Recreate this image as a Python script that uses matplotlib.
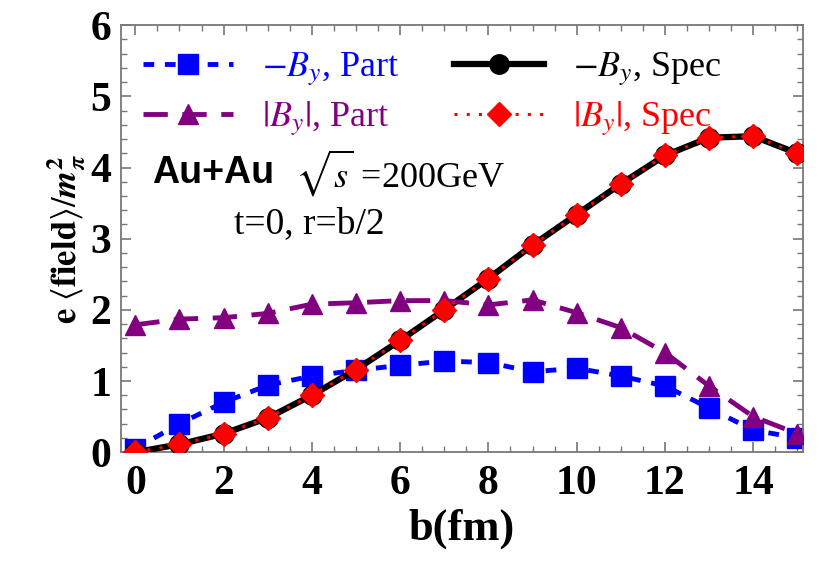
import matplotlib
matplotlib.use("Agg")
import matplotlib.pyplot as plt
from matplotlib.ticker import MultipleLocator

plt.rcParams['font.family'] = ['Liberation Serif', 'DejaVu Serif']
plt.rcParams['mathtext.fontset'] = 'stix'

b = list(range(16))
by_part = [0.05, 0.40, 0.70, 0.94, 1.07, 1.15, 1.22, 1.28, 1.26, 1.13, 1.18, 1.07, 0.93, 0.62, 0.31, 0.20]
absby_part = [1.79, 1.87, 1.89, 1.95, 2.08, 2.10, 2.13, 2.13, 2.07, 2.14, 1.96, 1.75, 1.40, 0.93, 0.50, 0.26]
by_spec = [0.0, 0.11, 0.26, 0.48, 0.80, 1.16, 1.57, 2.00, 2.44, 2.91, 3.34, 3.77, 4.17, 4.42, 4.44, 4.20]
absby_spec = [0.0, 0.11, 0.26, 0.48, 0.80, 1.16, 1.57, 2.00, 2.44, 2.91, 3.34, 3.77, 4.17, 4.42, 4.44, 4.20]

fig = plt.figure(figsize=(8.19, 5.61), dpi=100)
ax = fig.add_axes([0.148, 0.194, 0.832, 0.761])

ax.plot(b, by_part, color='#0000ff', lw=3.5, dashes=(2.2, 2.2), marker='s', ms=14,
        label=r'$-B_y$, Part', zorder=2)
ax.plot(b, by_spec, color='black', lw=4.5, marker='o', ms=14,
        label=r'$-B_y$, Spec', zorder=3)
ax.plot(b, absby_part, color='#800080', lw=3.5, dashes=(5, 3), marker='^', ms=14,
        label=r'$|B_y|$, Part', zorder=4)
ax.plot(b, absby_spec, color='#ff0000', lw=2.2, dashes=(1, 3), marker='D', ms=12,
        label=r'$|B_y|$, Spec', zorder=5)

ax.set_xlim(-0.32, 15.12)
ax.set_ylim(0, 6)
ax.xaxis.set_major_locator(MultipleLocator(2))
ax.xaxis.set_minor_locator(MultipleLocator(0.5))
ax.yaxis.set_major_locator(MultipleLocator(1))
ax.yaxis.set_minor_locator(MultipleLocator(0.2))
ax.tick_params(which='both', direction='in', top=True, right=True, color='#777777')
ax.tick_params(which='major', length=7, width=1.2, labelsize=30)
ax.tick_params(axis='x', which='major', pad=9)
ax.tick_params(axis='y', which='major', pad=7)
ax.tick_params(which='minor', length=4, width=1)
for lab in ax.get_xticklabels() + ax.get_yticklabels():
    lab.set_fontweight('bold')
for s in ax.spines.values():
    s.set_color('#777777')
    s.set_linewidth(1.3)

ax.set_xlabel('b(fm)', fontsize=32, fontweight='bold', labelpad=4)
ax.set_ylabel(r'$\mathbf{e}\ \langle\mathbf{field}\rangle/\mathbfit{m}_{\mathbfit{\pi}}^{\mathbf{2}}$',
              fontsize=25, labelpad=2)

handles, labels = ax.get_legend_handles_labels()
order = [0, 2, 1, 3]
leg = ax.legend([handles[i] for i in order], [labels[i] for i in order], ncol=2,
                loc='upper left', bbox_to_anchor=(-0.005, 1.0), frameon=False,
                fontsize=26, handlelength=2.5, columnspacing=1.5, handletextpad=0.8,
                labelspacing=0.3, borderaxespad=0.3)
for txt, h in zip(leg.get_texts(), [handles[i] for i in order]):
    txt.set_color(h.get_color())

ax.text(0.045, 0.655, 'Au+Au', transform=ax.transAxes, fontsize=27, fontweight='bold',
        family='Liberation Sans', va='center')
ax.text(0.255, 0.655, r'$\sqrt{s}$ =200GeV', transform=ax.transAxes, fontsize=26, va='center')
ax.text(0.276, 0.535, 't=0, r=b/2', transform=ax.transAxes, fontsize=27, va='center', ha='center')

fig.savefig('out.png', dpi=100)
